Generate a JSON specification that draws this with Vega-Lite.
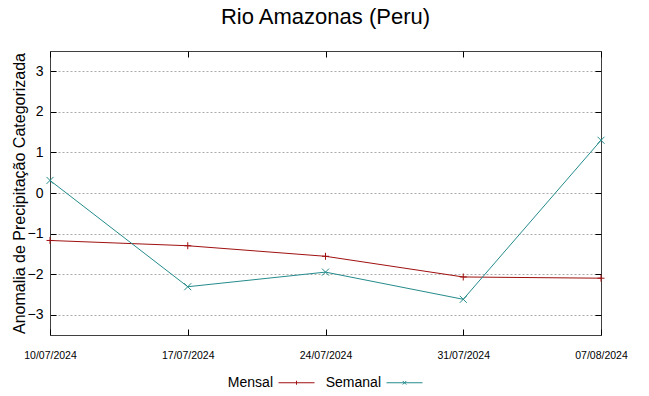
{
  "$schema": "https://vega.github.io/schema/vega-lite/v6.json",
  "width": 551,
  "height": 284,
  "autosize": {"type": "none"},
  "padding": {"left": 50, "top": 51, "right": 48, "bottom": 61},
  "background": "white",
  "config": {
    "view": {"stroke": "#404040", "strokeWidth": 1},
    "font": "Liberation Sans",
    "axis": {"labelColor": "#000", "titleColor": "#000", "tickColor": "#000", "domain": false}
  },
  "title": {"text": "Rio Amazonas (Peru)", "fontSize": 22, "fontWeight": "normal", "font": "Liberation Sans", "color": "#000", "offset": 22},
  "data": {
    "values": [
      {"date": "10/07/2024", "serie": "Mensal", "valor": -1.17},
      {"date": "17/07/2024", "serie": "Mensal", "valor": -1.30},
      {"date": "24/07/2024", "serie": "Mensal", "valor": -1.56},
      {"date": "31/07/2024", "serie": "Mensal", "valor": -2.07},
      {"date": "07/08/2024", "serie": "Mensal", "valor": -2.10},
      {"date": "10/07/2024", "serie": "Semanal", "valor": 0.31},
      {"date": "17/07/2024", "serie": "Semanal", "valor": -2.31},
      {"date": "24/07/2024", "serie": "Semanal", "valor": -1.95},
      {"date": "31/07/2024", "serie": "Semanal", "valor": -2.62},
      {"date": "07/08/2024", "serie": "Semanal", "valor": 1.30}
    ]
  },
  "layer": [
    {
      "mark": {"type": "line", "strokeWidth": 1, "clip": false},
      "encoding": {
        "x": {"field": "date", "type": "ordinal", "sort": null, "scale": {"type": "point", "padding": 0},
              "axis": {"title": null, "labelAngle": 0, "grid": false, "tickSize": -6, "labelPadding": 21, "labelFont": "Liberation Sans", "labelFontSize": 10.5, "orient": "bottom"}},
        "y": {"field": "valor", "type": "quantitative", "scale": {"domain": [-3.5, 3.5], "nice": false, "zero": false},
              "axis": {"title": "Anomalia de Precipitação Categorizada", "titleFontSize": 16, "titleFontWeight": "normal", "titlePadding": 0,
                       "values": [-3, -2, -1, 0, 1, 2, 3], "grid": true, "gridColor": "#ababab", "gridDash": [2, 2], "gridOpacity": 1,
                       "tickSize": -6, "labelPadding": 13, "labelFontSize": 14, "orient": "left"}},
        "color": {"field": "serie", "type": "nominal", "scale": {"domain": ["Mensal", "Semanal"], "range": ["#a01010", "#258b8b"]},
                  "legend": {"title": null, "orient": "none", "legendX": 228, "legendY": 313, "direction": "horizontal",
                             "labelFontSize": 14, "labelColor": "#000", "labelAlign": "right", "labelOffset": -42, "columnPadding": 8,
                             "symbolSize": 1296, "symbolStrokeWidth": 1,
                             "encode": {"symbols": {"update": {"shape": {"signal": "datum.value === 'Mensal' ? 'M-1,0L1,0M0,-0.11L0,0.11' : 'M-1,0L1,0M-0.1,-0.1L0.1,0.1M-0.1,0.1L0.1,-0.1'"}, "fill": {"value": "transparent"}}}}}}
      }
    },
    {
      "transform": [{"filter": "datum.serie === 'Mensal'"}],
      "mark": {"type": "point", "filled": false, "strokeWidth": 1, "size": 49, "opacity": 1, "clip": false, "color": "#a01010", "shape": "M-1,0L1,0M0,-1L0,1"},
      "encoding": {
        "x": {"field": "date", "type": "ordinal", "sort": null, "scale": {"type": "point", "padding": 0},
              "axis": {"title": null, "labels": false, "grid": false, "tickSize": -6, "orient": "top"}},
        "y": {"field": "valor", "type": "quantitative",
              "axis": {"title": null, "labels": false, "grid": false, "tickSize": -6, "values": [-3, -2, -1, 0, 1, 2, 3], "orient": "right"}}
      }
    },
    {
      "transform": [{"filter": "datum.serie === 'Semanal'"}],
      "mark": {"type": "point", "filled": false, "strokeWidth": 1, "size": 49, "opacity": 1, "clip": false, "color": "#258b8b", "shape": "M-1,-1L1,1M-1,1L1,-1"},
      "encoding": {
        "x": {"field": "date", "type": "ordinal", "sort": null, "axis": null},
        "y": {"field": "valor", "type": "quantitative", "axis": null}
      }
    }
  ],
  "resolve": {"axis": {"x": "independent", "y": "independent"}}
}
